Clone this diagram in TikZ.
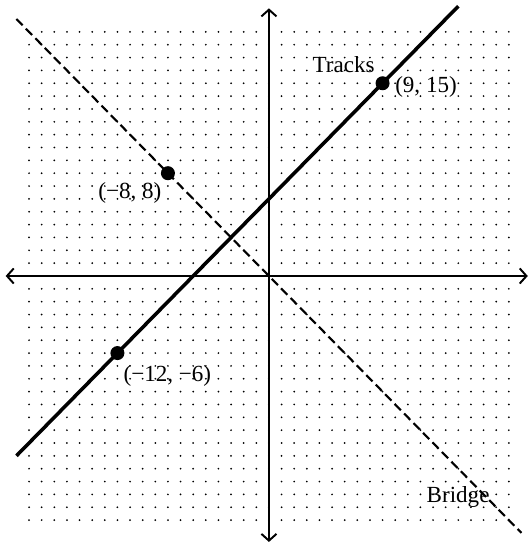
\documentclass[tikz,border=0pt]{standalone}
\usepackage{fontspec}
\setmainfont{Liberation Serif}
\usetikzlibrary{arrows.meta, positioning}

\begin{document}
\begin{tikzpicture}[x=0.25cm, y=0.2544cm,
  griddot/.style={fill=black},
  axisline/.style={line width=1.1pt,
    {Straight Barb[length=3.8pt,width=8.5pt]}-{Straight Barb[length=3.8pt,width=8.5pt]}},
  track/.style={line width=2pt},
  bridge/.style={line width=1.2pt, dash pattern=on 5pt off 2.6pt},
  ptdot/.style={circle, fill=black, minimum size=7.9pt, inner sep=0pt, outer sep=0pt},
  lbl/.style={inner sep=0pt, font=\fontsize{13}{15}\selectfont}
]
\useasboundingbox (-21.30,-20.86) rectangle (20.59,21.48);

% dot paper
\foreach \i in {-19,...,19}
  \foreach \j in {-19,...,19}
    \fill[griddot] (\i,\j) circle (0.55pt);

\coordinate (xL) at (-20.85,0);
\coordinate (xR) at (20.5,0);
\coordinate (yB) at (0,-20.7);
\coordinate (yT) at (0,20.83);
\draw[axisline] (xL) -- (xR);
\draw[axisline] (yB) -- (yT);

\coordinate (tA) at (-20,-14);
\coordinate (tB) at (15,21);
\coordinate (bA) at (-20,20);
\coordinate (bB) at (20,-20);
\draw[bridge] (bA) -- (bB);
\draw[track] (tA) -- (tB);

\node[ptdot] (P1) at (9,15) {};
\node[ptdot] (P2) at (-8,8) {};
\node[ptdot] (P3) at (-12,-6) {};

\node[lbl, right=3pt of P1, yshift=-2.1pt] {(9, 15)};
\node[lbl, above left=2.8pt and 1.5pt of P1] {Tracks};
\node[lbl, below left=2pt and 0.7pt of P2] {(−8, 8)};
\node[lbl, below right=4pt and 0.5pt of P3] {(−12, −6)};
\node[lbl, above left=14.1pt and 17.8pt of bB] {Bridge};
\end{tikzpicture}
\end{document}
